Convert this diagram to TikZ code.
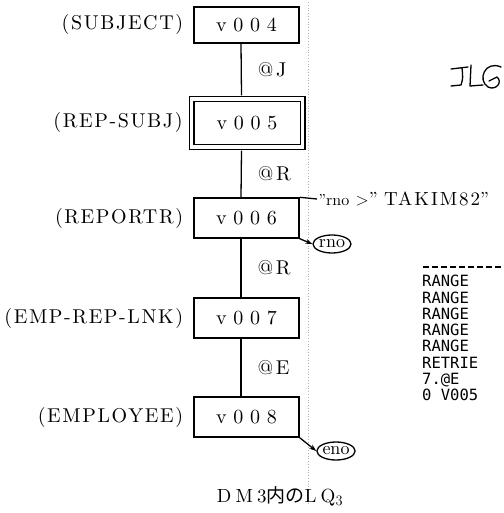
\documentclass[tikz,border=0pt]{standalone}
\usepackage{fontspec}
\setmainfont{lmroman10-regular.otf}
\newfontfamily\cjk{Noto Sans CJK JP}
\newfontfamily\prtfont{DejaVu Sans Mono}
\usepackage{tikz}
\usetikzlibrary{arrows.meta,positioning,calc,shapes.geometric}

\tikzset{
  recbox/.style={draw,line width=1.4pt,minimum width=105pt,minimum height=40pt,inner sep=0pt,
    font=\fontsize{20}{22}\selectfont\addfontfeatures{LetterSpace=34}},
  recname/.style={inner sep=0pt,font=\fontsize{20}{22}\selectfont\addfontfeatures{LetterSpace=8}},
  linkname/.style={inner sep=0pt,font=\fontsize{20}{22}\selectfont\addfontfeatures{LetterSpace=14}},
  conn/.style={line width=1.3pt},
  keyoval/.style={draw,ellipse,line width=1.3pt,inner sep=0pt,minimum height=18pt,minimum width=38pt,
    font=\fontsize{18}{19}\selectfont},
}

\begin{document}
\begin{tikzpicture}[x=1pt,y=-1pt]
  \useasboundingbox[fill=white] (0,0) rectangle (503,513);
  % faint fold of the scan
  \draw[black!30,dotted,line width=0.8pt] (308,2) -- (308,505);
  % record boxes
  \node[recbox,minimum height=36pt] (v4) at (246.5,25) {v004};
  \node[recbox,double,double distance=3.2pt,minimum width=111pt,minimum height=48pt] (v5) at (247,123) {v005};
  \node[recbox] (v6) at (246.5,218) {v006};
  \node[recbox] (v7) at (246.5,318) {v007};
  \node[recbox] (v8) at (246.5,417) {v008};
  % record names
  \node[recname,anchor=east] (n4) at ([xshift=-10pt]v4.west) {(SUBJECT)};
  \node[recname,anchor=east] (n5) at ([xshift=-8pt]v5.west) {(REP-SUBJ)};
  \node[recname,anchor=east] (n6) at ([xshift=-10pt]v6.west) {(REPORTR)};
  \node[recname,anchor=east] (n7) at ([xshift=-10pt]v7.west) {(EMP-REP-LNK)};
  \node[recname,anchor=east] (n8) at ([xshift=-10pt]v8.west) {(EMPLOYEE)};
  % set links
  \draw[conn] ([xshift=-5.5pt]v4.south) -- ([xshift=-5.5pt,yshift=3pt]v5.north)
    node[midway,right=16pt,linkname] (l1) {@J};
  \draw[conn] ([xshift=-5.5pt,yshift=-3pt]v5.south) -- ([xshift=-5.5pt]v6.north)
    node[midway,right=16pt,linkname] (l2) {@R};
  \draw[conn] ([xshift=-5.5pt]v6.south) -- ([xshift=-5.5pt]v7.north)
    node[midway,right=16pt,linkname] (l3) {@R};
  \draw[conn] ([xshift=-5.5pt]v7.south) -- ([xshift=-5.5pt]v8.north)
    node[midway,right=16pt,linkname] (l4) {@E};
  % condition and keys
  \coordinate (q6) at (317,199);
  \draw[conn] (v6.north east) -- (q6)
    node[right,inner sep=1pt,font=\fontsize{19}{20}\selectfont] (cond)
    {{\fontsize{16}{17}\selectfont ''rno} $>$'' {\addfontfeatures{LetterSpace=10}TAKIM82}''};
  \node[keyoval] (rno) at (332,244) {rno};
  \node[keyoval] (eno) at (336,451) {eno};
  \draw[conn,-{Stealth[length=7pt,width=5pt]}] (v6.south east) -- (rno.west);
  \draw[conn,-{Stealth[length=7pt,width=5pt]}] (v8.south east) -- (eno.west);
  % printout on the right
  \draw[line width=2pt,dash pattern=on 6pt off 3pt] (423,267) -- (503,267);
  \node[anchor=north west,inner sep=0pt,align=left,font=\prtfont\fontsize{15.5}{16.3}\selectfont] (lst) at (422,275)
    {RANGE\\RANGE\\RANGE\\RANGE\\RANGE\\RETRIE\\7.@E\\0 V005};
  % handwritten initials
  \draw[line width=1.3pt,line cap=round,line join=round]
    (451,69) -- (468,67) (462,68) .. controls (463,78) .. (461,85) -- (451,86)
    (471,65) -- (470,86) -- (483,85)
    (501,67) .. controls (485,60) and (477,80) .. (488,87) .. controls (496,91) and (503,82) .. (497,77) -- (489,81);
  % caption
  \node[inner sep=0pt,font=\fontsize{19}{20}\selectfont\addfontfeatures{LetterSpace=22}] (cap) at (280,496)
    {DM3{\cjk 内の}LQ$_3$};
\end{tikzpicture}
\end{document}
